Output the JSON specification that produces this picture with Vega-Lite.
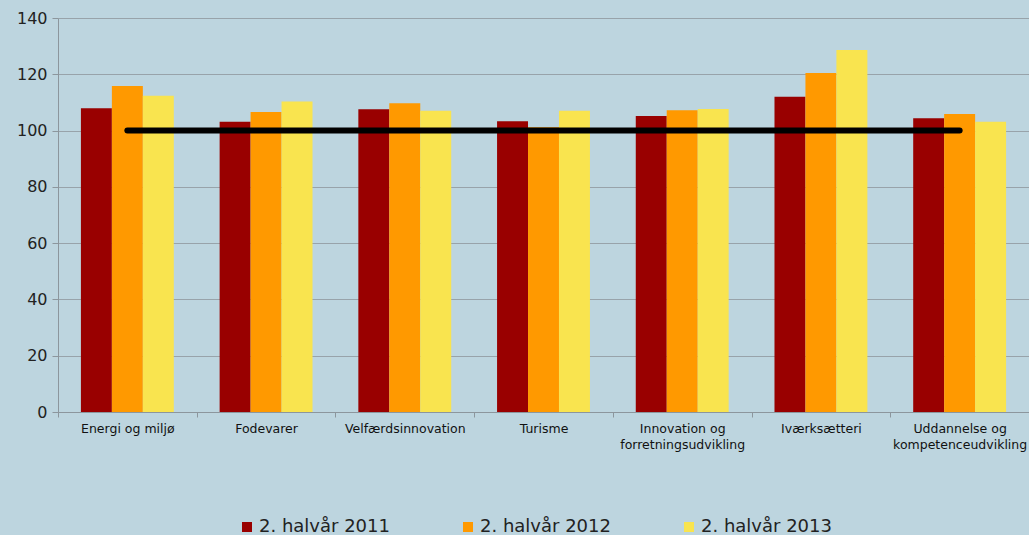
{
  "$schema": "https://vega.github.io/schema/vega-lite/v6.json",
  "width": 971,
  "height": 394,
  "autosize": {"type": "none"},
  "padding": {"left": 58, "top": 18, "right": 0, "bottom": 123},
  "background": "#bdd5df",
  "config": {"view": {"stroke": null}, "font": "DejaVu Sans"},
  "datasets": {
    "bars": [
      {"kategori": "Energi og miljø", "periode": "2. halvår 2011", "indeks": 107.9},
      {"kategori": "Energi og miljø", "periode": "2. halvår 2012", "indeks": 115.8},
      {"kategori": "Energi og miljø", "periode": "2. halvår 2013", "indeks": 112.4},
      {"kategori": "Fodevarer", "periode": "2. halvår 2011", "indeks": 103.1},
      {"kategori": "Fodevarer", "periode": "2. halvår 2012", "indeks": 106.6},
      {"kategori": "Fodevarer", "periode": "2. halvår 2013", "indeks": 110.3},
      {"kategori": "Velfærdsinnovation", "periode": "2. halvår 2011", "indeks": 107.6},
      {"kategori": "Velfærdsinnovation", "periode": "2. halvår 2012", "indeks": 109.7},
      {"kategori": "Velfærdsinnovation", "periode": "2. halvår 2013", "indeks": 107.0},
      {"kategori": "Turisme", "periode": "2. halvår 2011", "indeks": 103.3},
      {"kategori": "Turisme", "periode": "2. halvår 2012", "indeks": 101.2},
      {"kategori": "Turisme", "periode": "2. halvår 2013", "indeks": 107.0},
      {"kategori": "Innovation og|forretningsudvikling", "periode": "2. halvår 2011", "indeks": 105.2},
      {"kategori": "Innovation og|forretningsudvikling", "periode": "2. halvår 2012", "indeks": 107.2},
      {"kategori": "Innovation og|forretningsudvikling", "periode": "2. halvår 2013", "indeks": 107.7},
      {"kategori": "Iværksætteri", "periode": "2. halvår 2011", "indeks": 112.0},
      {"kategori": "Iværksætteri", "periode": "2. halvår 2012", "indeks": 120.5},
      {"kategori": "Iværksætteri", "periode": "2. halvår 2013", "indeks": 128.6},
      {"kategori": "Uddannelse og|kompetenceudvikling", "periode": "2. halvår 2011", "indeks": 104.4},
      {"kategori": "Uddannelse og|kompetenceudvikling", "periode": "2. halvår 2012", "indeks": 105.9},
      {"kategori": "Uddannelse og|kompetenceudvikling", "periode": "2. halvår 2013", "indeks": 103.1}
    ],
    "ref": [
      {"kategori": "Energi og miljø", "indeks": 100},
      {"kategori": "Fodevarer", "indeks": 100},
      {"kategori": "Velfærdsinnovation", "indeks": 100},
      {"kategori": "Turisme", "indeks": 100},
      {"kategori": "Innovation og|forretningsudvikling", "indeks": 100},
      {"kategori": "Iværksætteri", "indeks": 100},
      {"kategori": "Uddannelse og|kompetenceudvikling", "indeks": 100}
    ]
  },
  "layer": [
    {
      "data": {"name": "bars"},
      "mark": {"type": "bar"},
      "encoding": {
        "x": {
          "field": "kategori", "type": "nominal", "sort": null,
          "scale": {"paddingInner": 0, "paddingOuter": 0},
          "axis": {
            "title": null, "labelAngle": 0, "tickBand": "extent",
            "labelExpr": "split(datum.label, '|')",
            "labelFontSize": 12.5, "labelColor": "#111", "labelLineHeight": 16,
            "labelPadding": 5, "tickSize": 5, "tickColor": "#8c969d",
            "domainColor": "#8c969d", "labelLimit": 300
          }
        },
        "xOffset": {
          "field": "periode", "type": "nominal",
          "scale": {"paddingInner": 0, "paddingOuter": 0.74}
        },
        "y": {
          "field": "indeks", "type": "quantitative",
          "scale": {"domain": [0, 140], "nice": false},
          "axis": {
            "title": null, "values": [0, 20, 40, 60, 80, 100, 120, 140],
            "labelFontSize": 16, "labelColor": "#222", "labelPadding": 5,
            "tickSize": 6, "tickColor": "#8c969d", "domainColor": "#8c969d",
            "gridColor": "#98a3aa", "gridOpacity": 1
          }
        },
        "color": {
          "field": "periode", "type": "nominal",
          "scale": {
            "domain": ["2. halvår 2011", "2. halvår 2012", "2. halvår 2013"],
            "range": ["#990000", "#ff9900", "#f9e44f"]
          },
          "legend": {
            "title": null, "orient": "none", "direction": "horizontal",
            "legendX": 180, "legendY": 500,
            "symbolType": "square", "symbolSize": 100, "symbolStrokeWidth": 0,
            "symbolOpacity": 1, "labelFontSize": 18, "labelColor": "#222",
            "labelOffset": 3, "columnPadding": 69
          }
        }
      }
    },
    {
      "data": {"name": "ref"},
      "mark": {"type": "line", "color": "#000000", "strokeWidth": 6, "strokeCap": "round"},
      "encoding": {
        "x": {"field": "kategori", "type": "nominal", "sort": null},
        "y": {"field": "indeks", "type": "quantitative"}
      }
    }
  ]
}
